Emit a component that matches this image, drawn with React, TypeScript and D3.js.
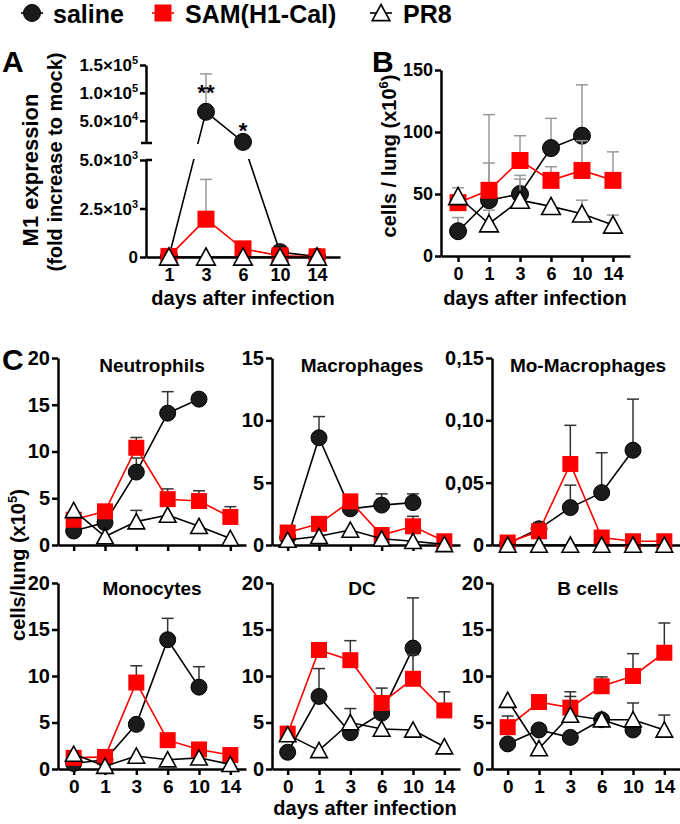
import React, { useRef, useEffect } from 'react';
import * as d3 from 'd3';

const W = 680;
const H = 824;
const FONT = '"Liberation Sans", Arial, sans-serif';

// ---- panel A: M1 expression ----
const daysA = ['1', '3', '6', '10', '14'];
const salineA = [20, 66000, 12000, 250, 20];
const salineAErr = [null, 134000, null, null, null];
const samA = [30, 1950, 420, 60, 10];
const samAErr = [null, 4000, 770, null, null];
const pr8A = [0, 0, 0, 0, 0];
const stars = [{ day: '3', text: '**', top: 100 }, { day: '6', text: '*', top: 138 }];

// ---- panel B: cells / lung ----
const daysBC = ['0', '1', '3', '6', '10', '14'];
const salineB = [20, 45, 50, 87, 97, null];
const salineBErr = [31, 75, 65, 111, 138, null];
const samB = [43, 53, 77, 61, 69, 61];
const samBErr = [null, 114, 97, 72, 93, 84];
const pr8B = [48, 26, 45, 40, 34, 25];
const pr8BErr = [55, 37, 62, null, 45, 33];

// ---- panel C: cell subsets ----
const neuSaline = [1.5, 2.4, 7.8, 14.1, 15.6, null];
const neuSalineErr = [null, null, 9.3, 16.4, null, null];
const neuSam = [2.7, 3.6, 10.4, 4.9, 4.7, 3.0];
const neuSamErr = [null, null, 11.5, 6.0, 5.8, 4.1];
const neuPr8 = [3.7, 0.9, 2.5, 3.2, 2.0, 0.7];
const neuPr8Err = [null, null, 3.7, null, null, null];

const macSaline = [0.6, 8.6, 2.9, 3.2, 3.4, null];
const macSalineErr = [null, 10.3, null, 4.1, 4.1, null];
const macSam = [1.0, 1.7, 3.5, 0.8, 1.5, 0.3];
const macSamErr = [null, null, 4.0, null, 2.3, null];
const macPr8 = [0.4, 0.7, 1.2, 0.5, 0.3, 0.05];

const momSaline = [0.001, 0.013, 0.03, 0.042, 0.076, null];
const momSalineErr = [null, null, 0.048, 0.074, 0.117, null];
const momSam = [0.002, 0.011, 0.065, 0.006, 0.003, 0.003];
const momSamErr = [null, 0.018, 0.096, null, null, null];
const momPr8 = [0, 0, 0, 0, 0, 0];

const monSaline = [0.6, 1.0, 4.8, 13.9, 8.8, null];
const monSalineErr = [null, null, null, 16.2, 11.0, null];
const monSam = [1.2, 1.3, 9.3, 3.1, 2.1, 1.5];
const monSamErr = [null, null, 11.1, null, null, null];
const monPr8 = [1.6, 0.3, 1.4, 1.0, 1.2, 0.5];

const dcSaline = [1.8, 7.8, 3.9, 6.0, 13.0, null];
const dcSalineErr = [null, 10.8, 6.5, null, 18.4, null];
const dcSam = [3.8, 12.8, 11.7, 7.1, 9.7, 6.3];
const dcSamErr = [null, null, 13.8, 8.7, 12.3, 8.3];
const dcPr8 = [3.7, 2.0, 5.0, 4.3, 4.2, 2.4];

const bSaline = [2.7, 4.2, 3.4, 5.3, 4.2, null];
const bSam = [4.5, 7.2, 6.6, 8.9, 10.0, 12.5];
const bSamErr = [5.7, null, 8.3, 9.9, 12.4, 15.7];
const bPr8 = [7.4, 2.2, 5.8, 5.3, 5.3, 4.2];
const bPr8Err = [null, null, 7.8, null, 7.1, 5.8];

const none = [null, null, null, null, null, null];

type Val = number | null;
type Kind = 'circle' | 'square' | 'triangle';

const panelsC = [
  { title: 'Neutrophils', col: 0, row: 0, max: 20, ticks: [0, 5, 10, 15, 20], s: [neuSaline, neuSalineErr], r: [neuSam, neuSamErr], t: [neuPr8, neuPr8Err] },
  { title: 'Macrophages', col: 1, row: 0, max: 15, ticks: [0, 5, 10, 15], s: [macSaline, macSalineErr], r: [macSam, macSamErr], t: [macPr8, none] },
  { title: 'Mo-Macrophages', col: 2, row: 0, max: 0.15, ticks: [0, 0.05, 0.1, 0.15], s: [momSaline, momSalineErr], r: [momSam, momSamErr], t: [momPr8, none] },
  { title: 'Monocytes', col: 0, row: 1, max: 20, ticks: [0, 5, 10, 15, 20], s: [monSaline, monSalineErr], r: [monSam, monSamErr], t: [monPr8, none] },
  { title: 'DC', col: 1, row: 1, max: 20, ticks: [0, 5, 10, 15, 20], s: [dcSaline, dcSalineErr], r: [dcSam, dcSamErr], t: [dcPr8, none] },
  { title: 'B cells', col: 2, row: 1, max: 20, ticks: [0, 5, 10, 15, 20], s: [bSaline, none], r: [bSam, bSamErr], t: [bPr8, bPr8Err] },
];

const colLeft = [58, 272, 492];
const rowZero = [545, 769];
const rowTop = [358, 583];
const titleX = [152, 362, 588];

function marker(g: any, kind: Kind, cx: number, cy: number, s: number) {
  if (kind === 'circle') {
    g.append('circle').attr('cx', cx).attr('cy', cy).attr('r', s / 2)
      .attr('fill', '#1b1b1b').attr('stroke', '#000').attr('stroke-width', 1);
  } else if (kind === 'square') {
    g.append('rect').attr('x', cx - s / 2).attr('y', cy - s / 2).attr('width', s).attr('height', s)
      .attr('fill', '#ff0000');
  } else {
    g.append('path')
      .attr('d', `M${cx},${cy - s * 0.5}L${cx + s * 0.52},${cy + s * 0.45}L${cx - s * 0.52},${cy + s * 0.45}Z`)
      .attr('fill', '#fff').attr('stroke', '#000').attr('stroke-width', 1.6);
  }
}

function drawSeries(g: any, x: any, y: (v: number) => number, days: string[], vals: Val[], errs: Val[],
  kind: Kind, size: number, errColor: string, lineClip?: string) {
  const color = kind === 'square' ? '#ff0000' : '#000';
  // error bars (upper only)
  vals.forEach((v, i) => {
    const e = errs[i];
    if (v == null || e == null) return;
    const cx = x(days[i]);
    g.append('line').attr('x1', cx).attr('x2', cx).attr('y1', y(v)).attr('y2', y(e))
      .attr('stroke', errColor).attr('stroke-width', 1.5);
    g.append('line').attr('x1', cx - 6).attr('x2', cx + 6).attr('y1', y(e)).attr('y2', y(e))
      .attr('stroke', errColor).attr('stroke-width', 1.5);
  });
  const pts = vals.map((v, i) => (v == null ? null : [x(days[i]), y(v)] as [number, number]))
    .filter(p => p != null) as [number, number][];
  const line = d3.line();
  const path = g.append('path').attr('d', line(pts)).attr('fill', 'none')
    .attr('stroke', color).attr('stroke-width', 1.6);
  if (lineClip) path.attr('clip-path', `url(#${lineClip})`);
  pts.forEach(p => marker(g, kind, p[0], p[1], size));
}

function styleAxis(sel: any, fontSize: number) {
  sel.select('.domain').attr('stroke', '#000').attr('stroke-width', 2.5);
  sel.selectAll('.tick line').attr('stroke', '#000').attr('stroke-width', 2.5);
  sel.selectAll('.tick text').attr('fill', '#000').attr('font-size', fontSize)
    .attr('font-weight', 'bold').attr('font-family', FONT);
  sel.attr('font-family', FONT);
}

function text(svg: any, x: number, y: number, str: string, size: number, anchor = 'start') {
  return svg.append('text').attr('x', x).attr('y', y).text(str)
    .attr('font-family', FONT).attr('font-weight', 'bold').attr('font-size', size)
    .attr('text-anchor', anchor).attr('fill', '#000');
}

function rotLabel(svg: any, cx: number, cy: number, main: string, sup: string, tail: string, size: number) {
  const t = svg.append('text').attr('transform', `translate(${cx},${cy}) rotate(-90)`)
    .attr('text-anchor', 'middle').attr('dy', '0.35em')
    .attr('font-family', FONT).attr('font-weight', 'bold').attr('font-size', size).attr('fill', '#000');
  t.append('tspan').text(main);
  if (sup) {
    t.append('tspan').text(sup).attr('font-size', size * 0.65).attr('dy', -size * 0.4);
    t.append('tspan').text(tail).attr('dy', size * 0.4);
  }
  return t;
}

const App: React.FC = () => {
  const svgRef = useRef<SVGSVGElement>(null);

  useEffect(() => {
    if (!svgRef.current) return;
    const svg = d3.select(svgRef.current);
    svg.selectAll('*').remove();

    // legend
    svg.append('line').attr('x1', 21).attr('x2', 43).attr('y1', 13).attr('y2', 13).attr('stroke', '#000').attr('stroke-width', 1.6);
    marker(svg, 'circle', 32, 13, 17);
    svg.append('line').attr('x1', 152).attr('x2', 174).attr('y1', 13).attr('y2', 13).attr('stroke', '#f00').attr('stroke-width', 1.6);
    marker(svg, 'square', 163, 13, 17);
    svg.append('line').attr('x1', 370).attr('x2', 392).attr('y1', 13).attr('y2', 13).attr('stroke', '#000').attr('stroke-width', 1.6);
    marker(svg, 'triangle', 381, 13, 17);
    text(svg, 53, 23, 'saline', 25);
    text(svg, 185, 23, 'SAM(H1-Cal)', 25);
    text(svg, 403, 23, 'PR8', 25);

    // panel letters
    text(svg, 2, 72, 'A', 30);
    text(svg, 372, 72, 'B', 30);
    text(svg, 2, 370, 'C', 30);

    // ---------- Panel A ----------
    const xA = d3.scalePoint().domain(daysA).range([146, 340]).padding(0.62);
    const yLow = d3.scaleLinear().domain([0, 5000]).range([257, 160]);
    const yHigh = d3.scaleLinear().domain([10000, 150000]).range([143, 65]);
    const yGap = d3.scaleLinear().domain([5000, 10000]).range([160, 143]);
    const yA = (v: number) => (v <= 5000 ? yLow(v) : v >= 10000 ? yHigh(v) : yGap(v));

    const defs = svg.append('defs');
    const cp = defs.append('clipPath').attr('id', 'brkA');
    cp.append('rect').attr('x', 0).attr('y', 0).attr('width', W).attr('height', 144);
    cp.append('rect').attr('x', 0).attr('y', 159).attr('width', W).attr('height', H);

    const aLow = svg.append('g').attr('transform', 'translate(146,0)')
      .call(d3.axisLeft(yLow).tickValues([0, 2500, 5000]).tickSize(6).tickSizeOuter(0).tickFormat(() => ''));
    styleAxis(aLow, 17);
    const aHigh = svg.append('g').attr('transform', 'translate(146,0)')
      .call(d3.axisLeft(yHigh).tickValues([50000, 100000, 150000]).tickSize(6).tickSizeOuter(0).tickFormat(() => ''));
    styleAxis(aHigh, 17);
    // break marks
    svg.append('line').attr('x1', 141).attr('x2', 152).attr('y1', 143).attr('y2', 143).attr('stroke', '#000').attr('stroke-width', 2.5);
    svg.append('line').attr('x1', 146).attr('x2', 152).attr('y1', 160).attr('y2', 160).attr('stroke', '#000').attr('stroke-width', 2.5);

    const aTicks: [number, string, string][] = [
      [0, '0', ''], [2500, '2.5×10', '3'], [5000, '5.0×10', '3'],
      [50000, '5.0×10', '4'], [100000, '1.0×10', '5'], [150000, '1.5×10', '5'],
    ];
    aTicks.forEach(([v, m, e]) => {
      const t = svg.append('text').attr('x', 138).attr('y', yA(v)).attr('dy', '0.36em')
        .attr('text-anchor', 'end').attr('font-family', FONT).attr('font-weight', 'bold')
        .attr('font-size', 17).attr('fill', '#000');
      t.append('tspan').text(m);
      if (e) t.append('tspan').text(e).attr('font-size', 11).attr('dy', -7);
    });

    const xAxisA = svg.append('g').attr('transform', 'translate(0,257)')
      .call(d3.axisBottom(xA).tickSize(6).tickSizeOuter(0).tickPadding(5));
    styleAxis(xAxisA, 18);

    const gA = svg.append('g');
    drawSeries(gA, xA, yA, daysA, salineA, salineAErr, 'circle', 17, '#999', 'brkA');
    drawSeries(gA, xA, yA, daysA, samA, samAErr, 'square', 17, '#999', 'brkA');
    drawSeries(gA, xA, yA, daysA, pr8A, [null, null, null, null, null], 'triangle', 18, '#999', 'brkA');
    stars.forEach(s => text(svg, xA(s.day)!, s.top, s.text, 22, 'middle'));

    text(svg, 243, 305, 'days after infection', 20, 'middle');
    svg.append('text').attr('transform', 'translate(30,170) rotate(-90)').attr('text-anchor', 'middle')
      .attr('dy', '0.35em').attr('font-family', FONT).attr('font-weight', 'bold').attr('font-size', 22)
      .attr('fill', '#000').text('M1 expression');
    svg.append('text').attr('transform', 'translate(55,162) rotate(-90)').attr('text-anchor', 'middle')
      .attr('dy', '0.35em').attr('font-family', FONT).attr('font-weight', 'bold').attr('font-size', 20)
      .attr('fill', '#000').text('(fold increase to mock)');

    // ---------- Panel B ----------
    const xB = d3.scalePoint().domain(daysBC).range([441, 630]).padding(0.55);
    const yB = d3.scaleLinear().domain([0, 150]).range([256, 70]);
    const yAxisB = svg.append('g').attr('transform', 'translate(441,0)')
      .call(d3.axisLeft(yB).tickValues([0, 50, 100, 150]).tickSize(6).tickSizeOuter(0).tickPadding(2));
    styleAxis(yAxisB, 18);
    const xAxisB = svg.append('g').attr('transform', 'translate(0,256)')
      .call(d3.axisBottom(xB).tickSize(6).tickSizeOuter(0).tickPadding(5));
    styleAxis(xAxisB, 18);
    const gB = svg.append('g');
    drawSeries(gB, xB, yB, daysBC, salineB, salineBErr, 'circle', 17, '#999');
    drawSeries(gB, xB, yB, daysBC, samB, samBErr, 'square', 17, '#999');
    drawSeries(gB, xB, yB, daysBC, pr8B, pr8BErr, 'triangle', 18, '#999');
    text(svg, 535, 305, 'days after infection', 20, 'middle');
    rotLabel(svg, 389, 156, 'cells / lung (x10', '6', ')', 20);

    // ---------- Panel C ----------
    panelsC.forEach(p => {
      const left = colLeft[p.col];
      const x = d3.scalePoint().domain(daysBC).range([left, left + 188]).padding(0.5);
      const y = d3.scaleLinear().domain([0, p.max]).range([rowZero[p.row], rowTop[p.row]]);
      const fmt = p.max < 1 ? (d: any) => (d === 0 ? '0' : d3.format('.2f')(d).replace('.', ',')) : d3.format('d');
      const ya = svg.append('g').attr('transform', `translate(${left},0)`)
        .call(d3.axisLeft(y).tickValues(p.ticks).tickSize(6).tickSizeOuter(0).tickPadding(2).tickFormat(fmt as any));
      styleAxis(ya, 20);
      const xa = svg.append('g').attr('transform', `translate(0,${rowZero[p.row]})`)
        .call(d3.axisBottom(x).tickSize(6).tickSizeOuter(0).tickPadding(5)
          .tickFormat(p.row === 0 ? () => '' : (d: string) => d));
      styleAxis(xa, 19);
      const g = svg.append('g');
      drawSeries(g, x, y, daysBC, p.s[0], p.s[1], 'circle', 16, '#333');
      drawSeries(g, x, y, daysBC, p.r[0], p.r[1], 'square', 16, '#333');
      drawSeries(g, x, y, daysBC, p.t[0], p.t[1], 'triangle', 16, '#333');
      text(svg, titleX[p.col], p.row === 0 ? 372 : 595, p.title, 19, 'middle');
    });
    text(svg, 365, 815, 'days after infection', 20, 'middle');
    rotLabel(svg, 18, 565, 'cells/lung (x10', '5', ')', 20);
  }, []);

  return (
    <div style={{ position: 'absolute', left: 0, top: 0, background: '#fff' }}>
      <svg ref={svgRef} width={W} height={H} style={{ display: 'block' }}></svg>
    </div>
  );
};

export default App;
